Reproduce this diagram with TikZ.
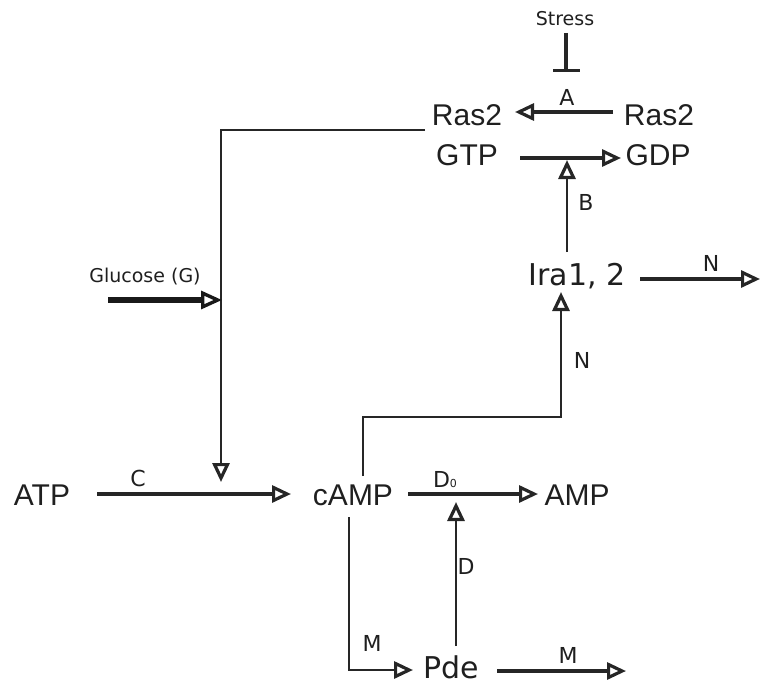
\documentclass[tikz,border=0pt]{standalone}
\usepackage{fontspec}
\setmainfont{Liberation Sans}
\newfontfamily\dvfont{DejaVu Sans}
\usetikzlibrary{arrows.meta}
\begin{document}
\begin{tikzpicture}[x=1pt,y=-1pt,
  big/.style={font=\fontsize{30}{30}\selectfont, inner sep=0pt, text=black!88},
  bigdv/.style={font=\dvfont\fontsize{30}{30}\selectfont, inner sep=0pt, text=black!88},
  lab/.style={font=\dvfont\fontsize{22}{22}\selectfont, inner sep=0pt, text=black!88},
  smalllab/.style={font=\dvfont\fontsize{19}{19}\selectfont, inner sep=0pt, text=black!88},
  conn/.style={line width=3.4pt, draw=black!85},
  mid/.style={line width=2.8pt, draw=black!85},
  thin/.style={line width=2pt, draw=black!85},
  oarr/.style={-{Triangle[open,length=19pt,width=17pt,line width=3.2pt]}},
  inh/.style={-{Bar[width=27pt,line width=3pt]}},
]
\useasboundingbox (0,0) rectangle (760,685);
% species nodes
\node[big] (ras2gtp) at (467,115) {Ras2};
\node[big] (gtp) at (467,155) {GTP};
\node[big] (ras2gdp) at (659,115) {Ras2};
\node[big] (gdp) at (658,155) {GDP};
\node[bigdv] (ira) at (577,276) {Ira1, 2};
\node[big] (atp) at (42,495) {ATP};
\node[big] (camp) at (353,495) {cAMP};
\node[big] (amp) at (577,495) {AMP};
\node[bigdv] (pde) at (451,667) {Pde};
% labels
\node[smalllab] (stress) at (565,19) {Stress};
\node[smalllab] (glucose) at (145,277) {Glucose (G)};
\node[lab] (lA) at (567,97) {A};
\node[lab] (lB) at (586,202) {B};
\node[lab] (lN1) at (711,263) {N};
\node[lab] (lN2) at (582,360) {N};
\node[lab] (lC) at (138,478) {C};
\node[lab] (lD0) at (445,480) {D{\fontsize{11}{11}\selectfont 0}};
\node[lab] (lD) at (466,566) {D};
\node[lab] (lM1) at (372,643) {M};
\node[lab] (lM2) at (568,655) {M};
% connector end points
\coordinate (sTop) at (566,33);
\coordinate (sBar) at (566,72);
\coordinate (aS) at (613,112);
\coordinate (aE) at (515,112);
\coordinate (gS) at (520,158);
\coordinate (gE) at (621,158);
\coordinate (bS) at (567,252);
\coordinate (bE) at (567,160);
\coordinate (rS) at (425,130);
\coordinate (rC) at (221,130);
\coordinate (rE) at (221,482);
\coordinate (glS) at (108,300);
\coordinate (glE) at (222,300);
\coordinate (cS) at (97,494);
\coordinate (cE) at (291,494);
\coordinate (nS) at (363,476);
\coordinate (nC1) at (363,417);
\coordinate (nC2) at (561,417);
\coordinate (nE) at (561,292);
\coordinate (irS) at (640,279);
\coordinate (irE) at (760,279);
\coordinate (d0S) at (408,494);
\coordinate (d0E) at (538,494);
\coordinate (dS) at (456,646);
\coordinate (dE) at (456,502);
\coordinate (mS) at (349,517);
\coordinate (mC) at (349,670);
\coordinate (mE) at (413,670);
\coordinate (pS) at (497,671);
\coordinate (pE) at (626,671);
% connectors
\draw[conn,inh] (sTop) -- (sBar);
\draw[conn,oarr] (aS) -- (aE);
\draw[conn,oarr] (gS) -- (gE);
\draw[thin,oarr] (bS) -- (bE);
\draw[thin,oarr] (rS) -- (rC) -- (rE);
\draw[line width=6.5pt, draw=black!90, -{Triangle[open,length=21pt,width=18pt,line width=3.4pt]}] (glS) -- (glE);
\draw[conn,oarr] (cS) -- (cE);
\draw[mid,oarr] (nS) -- (nC1) -- (nC2) -- (nE);
\draw[conn,oarr] (irS) -- (irE);
\draw[conn,oarr] (d0S) -- (d0E);
\draw[mid,oarr] (dS) -- (dE);
\draw[mid,oarr] (mS) -- (mC) -- (mE);
\draw[conn,oarr] (pS) -- (pE);
\end{tikzpicture}
\end{document}
